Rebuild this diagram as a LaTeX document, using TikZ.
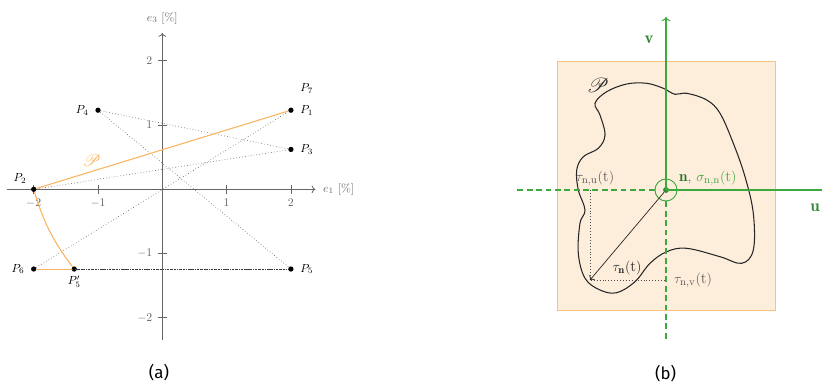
\documentclass[tikz,border=0pt]{standalone}
\usepackage{fontspec}
\newfontfamily\capfont{Fira Sans}
\usepackage{amsmath}
\usepackage{mathrsfs}
\usetikzlibrary{arrows.meta, positioning, calc}
\definecolor{myorange}{HTML}{FAB35E}
\definecolor{myfill}{HTML}{FDEEDC}
\definecolor{mygreen}{HTML}{3DA83D}
\tikzset{
	pointnode/.style={
			circle,
			fill=black,
			minimum size=4.5pt,
			inner sep=0pt
		},
	axisline/.style={
			black!60,
			line width=0.7pt
		},
	pathline/.style={
			myorange,
			line width=0.9pt
		},
	dotline/.style={
			black!70,
			dotted,
			line width=0.5pt
		},
	greenaxis/.style={
			mygreen,
			line width=0.9pt
		},
	greendash/.style={
			mygreen,
			line width=0.9pt,
			dash pattern=on 5pt off 3pt
		},
	squarebox/.style={
			draw=myorange!80,
			fill=myfill,
			line width=0.8pt
		},
	bignode/.style={
			font=\fontsize{13}{15}\selectfont
		},
	captionnode/.style={
			font=\capfont\Large
		}
}

\begin{document}
\begin{tikzpicture}[x=0.03cm, y=0.03cm]
\useasboundingbox (0,0) rectangle (822,385);

% (a) strain path
\begin{scope}[shift={(162.3,195.7)}, x=1.929cm, y=1.929cm]
\coordinate (xlo) at (-2.42,0);
\coordinate (xhi) at (2.38,0);
\coordinate (ylo) at (0,-2.35);
\coordinate (yhi) at (0,2.43);
\draw[axisline, ->] (xlo) -- (xhi) node[right=3pt] {$e_1$ [\%]};
\draw[axisline, ->] (ylo) -- (yhi) node[above=4pt] {$e_3$ [\%]};
\foreach \t in {-2,-1,1,2} {
  \draw[axisline] (\t,-0.07) -- (\t,0.07) node[pos=0, below=1pt] {$\t$};
  \draw[axisline] (-0.07,\t) -- (0.07,\t) node[pos=0, left=1pt] {$\t$};
}

\node[pointnode] (p1) at (2,1.23) {};
\node[pointnode] (p2) at (-2,0) {};
\node[pointnode] (p3) at (2,0.62) {};
\node[pointnode] (p4) at (-1,1.23) {};
\node[pointnode] (p5) at (2,-1.24) {};
\node[pointnode] (p6) at (-2,-1.24) {};
\node[pointnode] (p5p) at (-1.37,-1.24) {};

\node[right=2pt of p1] (p1lab) {$P_1$};
\node[above=3pt of p1lab] (p7lab) {$P_7$};
\node[above left=0pt and 1pt of p2] (p2lab) {$P_2$};
\node[right=2pt of p3] (p3lab) {$P_3$};
\node[left=2pt of p4] (p4lab) {$P_4$};
\node[right=2pt of p5] (p5lab) {$P_5$};
\node[left=2pt of p6] (p6lab) {$P_6$};
\node[below=0pt of p5p] (p5plab) {$P_5'$};

\draw[dotline] (p4) -- (p3);
\draw[dotline] (p4) -- (p5);
\draw[dotline] (p2) -- (p3);
\draw[dotline] (p6) -- (p1);
\draw[dotline] (p6) -- (p5);
\draw[dotline, densely dotted, black!80] (p5p) -- (p5);

\draw[pathline] (p2) -- (p1);
\draw[pathline] (p2) to[bend right=10] (p5p);
\draw[pathline] (p6) -- (p5p);
\node[myorange, font=\Large] (plab) at (-1.1,0.45) {$\mathscr{P}$};
\end{scope}
\node[captionnode] (capa) at (159,12) {(a)};

% (b) yield locus in the u-v plane
\begin{scope}[shift={(666,195)}]
\draw[squarebox] (-108.7,-120.7) rectangle (109.3,129);
\draw[black!85, line width=0.9pt] plot[smooth cycle, tension=0.6] coordinates {
  (-71,86.7) (-59.3,98.3) (-39.3,106) (-19.3,106.7) (-2.7,101.7) (9,95.7)
  (20.7,96.7) (40.7,90) (54,76.7) (67.3,46.7) (79,13.3) (87.3,-23.3)
  (87.3,-60) (75.7,-73.3) (54,-66.7) (20.7,-58.3) (0.7,-61.7) (-16,-73.3)
  (-31,-91.7) (-49.3,-102.7) (-66,-100) (-81,-88.3) (-87.7,-63.3) (-86,-33.3)
  (-81,-20) (-87.7,0) (-89.3,20) (-82.7,33.3) (-67.7,41.7) (-61,55) (-66,75)
};

\node[circle, draw=mygreen, line width=0.8pt, minimum size=0.66cm, inner sep=0pt] (c) at (0,0) {};
\node[circle, fill=mygreen!80!black, minimum size=5pt, inner sep=0pt] (cdot) at (0,0) {};
\coordinate (vtop) at (0,173);
\coordinate (vbot) at (0,-151);
\coordinate (ulft) at (-151,0);
\coordinate (urgt) at (156,0);
\draw[greenaxis, ->] (c.center) -- (vtop);
\draw[greenaxis] (c.center) -- (urgt);
\draw[greendash] (c.west) -- (ulft);
\draw[greendash] (c.south) -- (vbot);

\coordinate (tip) at (-76,-90);
\coordinate (ufoot) at (-76,0);
\coordinate (vfoot) at (0,-90);
\draw[dotline] (ufoot) -- (tip) -- (vfoot);
\draw[black!85, line width=0.6pt, ->] (cdot) -- (tip);

\node[mygreen!80!black, font=\Large] (vlab) at (-17,150) {$\mathbf{v}$};
\node[mygreen!80!black, font=\Large] (ulab) at (149,-18) {$\mathbf{u}$};
\node[black!85, font=\fontsize{19}{22}\selectfont] (plab2) at (-68,105) {$\mathscr{P}$};
\node[bignode, black!65] (tulab) at (-71,12) {$\tau_{\mathrm{n,u}}(\mathrm{t})$};
\node[bignode, black!85] (tnlab) at (-39,-78) {$\tau_{\mathbf{n}}(\mathrm{t})$};
\node[bignode, black!65, anchor=west] (tvlab) at (4,-90) {$\tau_{\mathrm{n,v}}(\mathrm{t})$};
\node[bignode, anchor=west] (snlab) at (9,12) {{\color{mygreen!70!black}$\mathbf{n},$} {\color{mygreen}$\sigma_{\mathrm{n,n}}(\mathrm{t})$}};
\end{scope}
\node[captionnode] (capb) at (665.7,11.7) {(b)};
\end{tikzpicture}
\end{document}
